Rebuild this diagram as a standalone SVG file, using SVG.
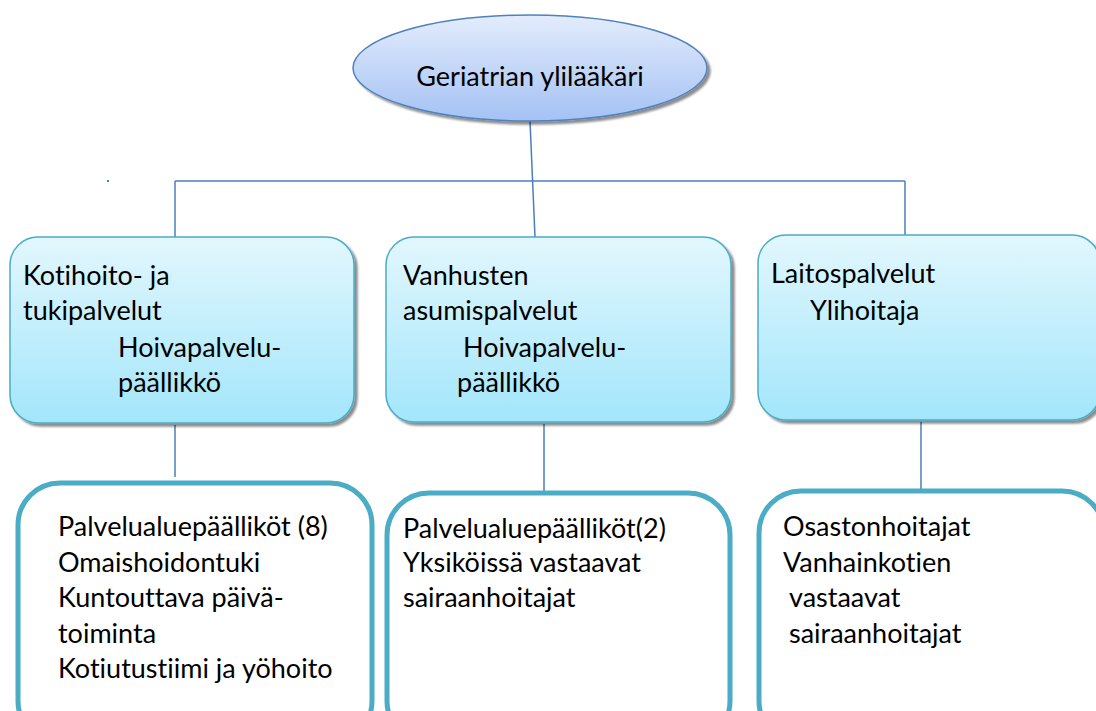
<svg xmlns="http://www.w3.org/2000/svg" width="1096" height="711" viewBox="0 0 1096 711">
  <defs>
    <linearGradient id="gOval" x1="0" y1="0" x2="0" y2="1">
      <stop offset="0" stop-color="#e3ecfc"/>
      <stop offset="1" stop-color="#a4c2f4"/>
    </linearGradient>
    <linearGradient id="gBox" x1="0" y1="0" x2="0" y2="1">
      <stop offset="0" stop-color="#e2f7fd"/>
      <stop offset="1" stop-color="#a3e6fb"/>
    </linearGradient>
    <filter id="shadow" x="-10%" y="-10%" width="130%" height="130%">
      <feGaussianBlur in="SourceAlpha" stdDeviation="1"/>
      <feOffset dx="3" dy="3" result="o"/>
      <feComponentTransfer><feFuncA type="linear" slope="0.45"/></feComponentTransfer>
      <feMerge><feMergeNode/><feMergeNode in="SourceGraphic"/></feMerge>
    </filter>
  </defs>
  <style>
    text { font-family: Lato, "Open Sans", "Liberation Sans", sans-serif; font-size: 27px; fill: #000; font-variant-ligatures: none; }
    .oval { fill: url(#gOval); stroke: #4f81bd; stroke-width: 1.5; }
    .mid { fill: url(#gBox); stroke: #4bacc6; stroke-width: 1.5; }
    .low { fill: #fff; stroke: #4bacc6; stroke-width: 5; }
    .conn { stroke: #4a7ebb; stroke-width: 1.5; fill: none; }
  </style>
  <rect width="1096" height="711" fill="#fff"/>

  <g id="connectors">
    <path class="conn" d="M530 121 L535 237"/>
    <path class="conn" d="M175 181 H905"/>
    <path class="conn" d="M175 181 V237"/>
    <path class="conn" d="M905 181 V236"/>
    <path class="conn" d="M175 425 V477"/>
    <path class="conn" d="M544 424 V492"/>
    <path class="conn" d="M921 422 V490"/>
    <rect x="107" y="180" width="2" height="2" fill="#4a7ebb"/>
  </g>

  <g id="top">
    <ellipse class="oval" cx="530" cy="68" rx="177" ry="53" filter="url(#shadow)"/>
    <text x="530" y="86" text-anchor="middle" font-size="28">Geriatrian ylilääkäri</text>
  </g>

  <g id="kotihoito">
    <rect class="mid" x="10" y="237" width="344" height="186" rx="28" filter="url(#shadow)"/>
    <text x="23" y="285">Kotihoito- ja</text>
    <text x="23" y="320">tukipalvelut</text>
    <text x="118" y="357">Hoivapalvelu-</text>
    <text x="118" y="392">päällikkö</text>
  </g>

  <g id="asumispalvelut">
    <rect class="mid" x="386" y="237" width="345" height="185" rx="28" filter="url(#shadow)"/>
    <text x="403" y="285">Vanhusten</text>
    <text x="403" y="320">asumispalvelut</text>
    <text x="463" y="357">Hoivapalvelu-</text>
    <text x="457" y="392">päällikkö</text>
  </g>

  <g id="laitospalvelut">
    <rect class="mid" x="758" y="235" width="342" height="185" rx="28" filter="url(#shadow)"/>
    <text x="771" y="283">Laitospalvelut</text>
    <text x="810" y="320">Ylihoitaja</text>
  </g>

  <g id="kotihoito-yksikot">
    <rect class="low" x="18" y="483" width="354" height="260" rx="42"/>
    <text x="58" y="536">Palvelualuepäälliköt (8)</text>
    <text x="58" y="572">Omaishoidontuki</text>
    <text x="58" y="607">Kuntouttava päivä-</text>
    <text x="58" y="643">toiminta</text>
    <text x="58" y="678">Kotiutustiimi ja yöhoito</text>
  </g>

  <g id="asumis-yksikot">
    <rect class="low" x="387" y="493" width="343" height="250" rx="42"/>
    <text x="403" y="538">Palvelualuepäälliköt(2)</text>
    <text x="403" y="572">Yksiköissä vastaavat</text>
    <text x="403" y="607">sairaanhoitajat</text>
  </g>

  <g id="laitos-yksikot">
    <rect class="low" x="759" y="491" width="345" height="252" rx="42"/>
    <text x="783" y="536">Osastonhoitajat</text>
    <text x="783" y="572">Vanhainkotien</text>
    <text x="789" y="607">vastaavat</text>
    <text x="789" y="643">sairaanhoitajat</text>
  </g>
</svg>
